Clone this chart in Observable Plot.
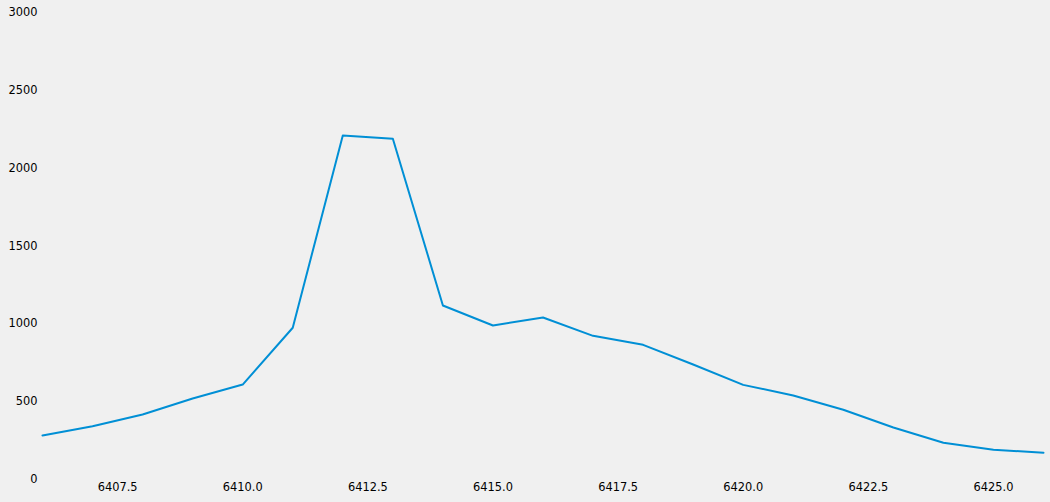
<!DOCTYPE html>
<html>
<head>
<meta charset="utf-8">
<script src="https://cdn.jsdelivr.net/npm/d3@7"></script>
<script src="https://cdn.jsdelivr.net/npm/@observablehq/plot@0.6"></script>
<style>
  html, body { margin: 0; padding: 0; background: #f0f0f0; }
  #chart svg { display: block; }
</style>
</head>
<body>
<div id="chart"></div>
<script>
const xValues = [6406, 6407, 6408, 6409, 6410, 6411, 6412, 6413, 6414, 6415, 6416, 6417, 6418, 6419, 6420, 6421, 6422, 6423, 6424, 6425, 6426];
const yValues = [283, 342, 418, 520, 610, 975, 2210, 2189, 1118, 989, 1041, 923, 865, 739, 608, 540, 448, 334, 236, 191, 172];
const xTicks = [6407.5, 6410.0, 6412.5, 6415.0, 6417.5, 6420.0, 6422.5, 6425.0];
const yTicks = [0, 500, 1000, 1500, 2000, 2500, 3000];

const data = xValues.map((x, i) => ({x, y: yValues[i]}));

const chart = Plot.plot({
  width: 1050,
  height: 502,
  marginLeft: 42,
  marginRight: 7,
  marginTop: 12,
  marginBottom: 23,
  style: {background: "#f0f0f0", fontFamily: "DejaVu Sans", fontSize: "11.4px", color: "#000"},
  x: {domain: [6406, 6426], label: null},
  y: {domain: [0, 3000], label: null},
  marks: [
    Plot.axisX({ticks: xTicks, tickFormat: d => d.toFixed(1), tickSize: 0, tickPadding: 3.5, fontSize: 11.4, label: null}),
    Plot.axisY({ticks: yTicks, tickFormat: d => String(d), tickSize: 0, tickPadding: 5, fontSize: 11.4, label: null}),
    Plot.line(data, {x: "x", y: "y", stroke: "#008fd5", strokeWidth: 2})
  ]
});
document.getElementById("chart").appendChild(chart);
</script>
</body>
</html>
